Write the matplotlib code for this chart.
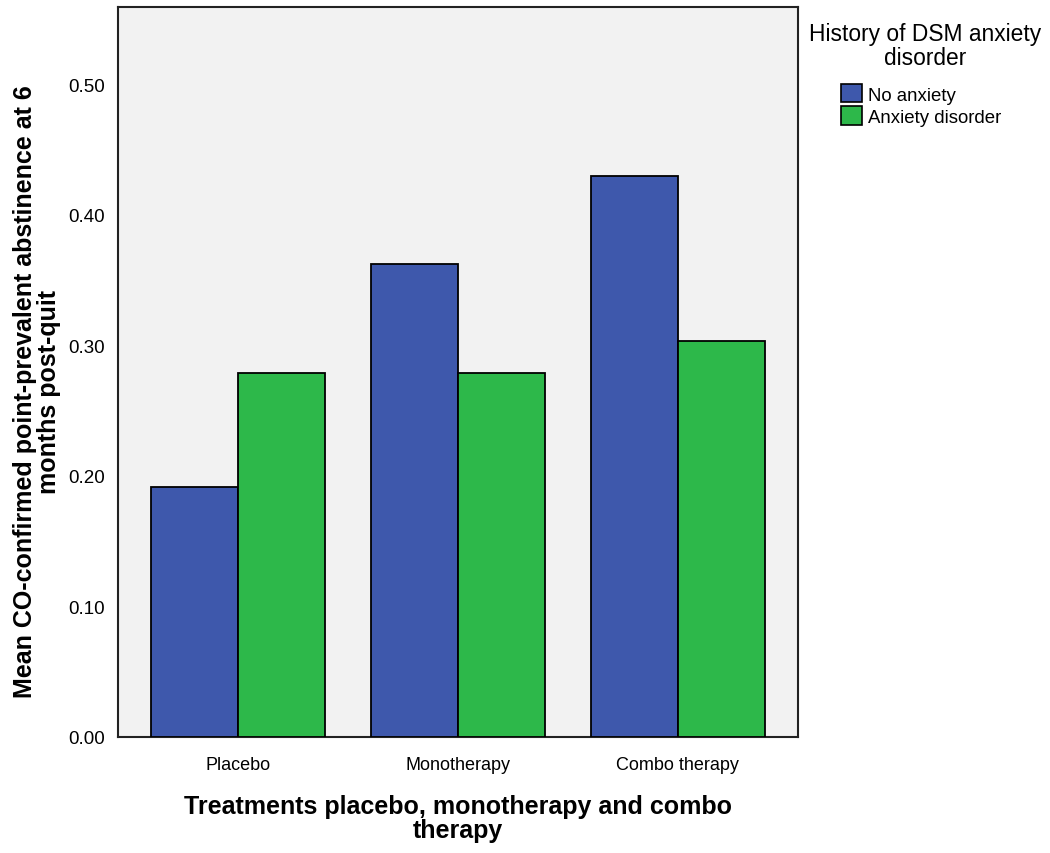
import matplotlib
matplotlib.use("Agg")
import matplotlib.pyplot as plt
import numpy as np
from matplotlib.patches import Patch

categories = ["Placebo", "Monotherapy", "Combo therapy"]
series_names = ["No anxiety", "Anxiety disorder"]
no_anxiety = [0.191, 0.362, 0.430]
anxiety = [0.279, 0.279, 0.303]
yticks = [0.00, 0.10, 0.20, 0.30, 0.40, 0.50]

blue = "#3E58AC"
green = "#2DB84A"
sans = ["Liberation Sans", "DejaVu Sans"]

fig = plt.figure(figsize=(10.5, 8.54), dpi=100)
ax = fig.add_axes([0.1121, 0.1362, 0.6482, 0.8541])
ax.set_facecolor("#F2F2F2")

x = np.arange(len(categories))
w = 0.396
ax.bar(x - w / 2, no_anxiety, w, color=blue, edgecolor="black", linewidth=1.3, zorder=3)
ax.bar(x + w / 2, anxiety, w, color=green, edgecolor="black", linewidth=1.3, zorder=3)

ax.set_xlim(-0.549, 2.549)
ax.set_ylim(0, 0.559)
ax.set_yticks(yticks)
ax.set_yticklabels([f"{v:.2f}" for v in yticks], family=sans, fontsize=13.5)
ax.set_xticks(x)
ax.set_xticklabels(categories, family=sans, fontsize=13)
ax.tick_params(axis="both", length=0)
ax.tick_params(axis="y", pad=9.5)
ax.tick_params(axis="x", pad=14)
for s in ax.spines.values():
    s.set_color("#222222")
    s.set_linewidth(1.5)

fig.text(0.436, 0.041, "Treatments placebo, monotherapy and combo\ntherapy",
         ha="center", va="center", family=sans, fontweight="bold", fontsize=18,
         linespacing=1.05)
fig.text(0.035, 0.541, "Mean CO-confirmed point-prevalent abstinence at 6\nmonths post-quit",
         ha="center", va="center", rotation=90, family=sans, fontweight="bold",
         fontsize=18, linespacing=1.0)

fig.text(0.881, 0.946, "History of DSM anxiety\ndisorder", ha="center", va="center",
         family=sans, fontsize=16.4, linespacing=1.05)
handles = [Patch(facecolor=blue, edgecolor="black", linewidth=1.2),
           Patch(facecolor=green, edgecolor="black", linewidth=1.2)]
leg = fig.legend(handles, series_names, loc="upper left", bbox_to_anchor=(0.801, 0.9005),
                 frameon=False, prop={"family": sans, "size": 13.4},
                 handlelength=1.15, handleheight=1.15, handletextpad=0.3,
                 labelspacing=0.15, borderaxespad=0, borderpad=0)

fig.savefig("out.png", dpi=100, facecolor="white")
